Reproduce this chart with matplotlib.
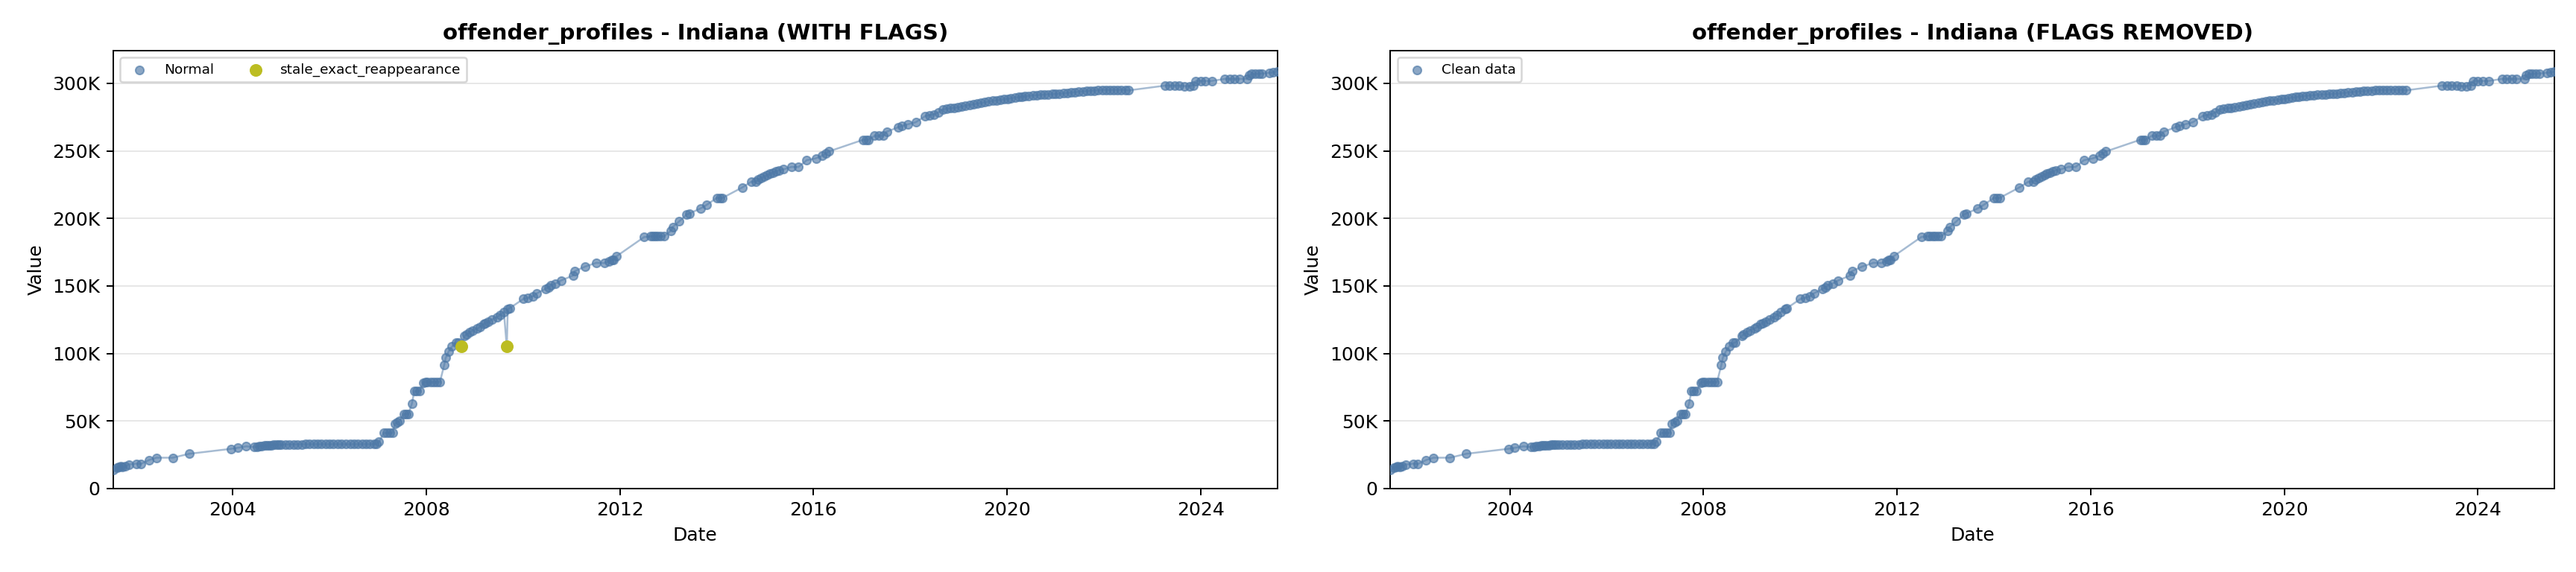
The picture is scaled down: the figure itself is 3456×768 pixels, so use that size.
import pandas as pd
import matplotlib.pyplot as plt
from matplotlib.ticker import FuncFormatter

# decimal years, values in records
years = [
    2001.53, 2001.60, 2001.64, 2001.68, 2001.72, 2001.77, 2001.85, 2002.00, 2002.10, 2002.27,
    2002.42, 2002.76, 2003.10, 2003.97, 2004.10, 2004.28, 2004.44,
    2004.50, 2004.55, 2004.60, 2004.65, 2004.70, 2004.75, 2004.80, 2004.85, 2004.90, 2004.95,
    2005.00, 2005.08, 2005.17, 2005.25, 2005.33, 2005.42, 2005.50, 2005.58, 2005.67, 2005.75,
    2005.83, 2005.92, 2006.00, 2006.08, 2006.17, 2006.25, 2006.33, 2006.42, 2006.50, 2006.58,
    2006.67, 2006.75, 2006.83, 2006.92, 2006.97, 2007.02,
    2007.12, 2007.18, 2007.24, 2007.30, 2007.35, 2007.40, 2007.45, 2007.53, 2007.58, 2007.63,
    2007.70, 2007.75, 2007.80, 2007.86, 2007.94, 2007.98, 2008.02, 2008.10, 2008.16, 2008.22,
    2008.28, 2008.37, 2008.40, 2008.46, 2008.53, 2008.61, 2008.66, 2008.72,
    2008.79, 2008.83, 2008.90, 2008.96, 2009.05, 2009.10, 2009.18, 2009.22, 2009.28, 2009.36,
    2009.46, 2009.52, 2009.60, 2009.66, 2009.68, 2009.72,
    2010.00, 2010.10, 2010.20, 2010.28, 2010.46, 2010.52, 2010.57, 2010.67, 2010.78, 2011.03,
    2011.07, 2011.28, 2011.51, 2011.68, 2011.78, 2011.83, 2011.86, 2011.93,
    2012.50, 2012.63, 2012.68, 2012.73, 2012.78, 2012.84, 2012.91, 2013.05, 2013.09, 2013.22,
    2013.38, 2013.43, 2013.66, 2013.79, 2014.00, 2014.06, 2014.12, 2014.53, 2014.71, 2014.81,
    2014.86, 2014.92, 2014.98, 2015.04, 2015.10, 2015.16, 2015.22, 2015.28, 2015.38, 2015.54,
    2015.69, 2015.86, 2016.05, 2016.18, 2016.25, 2016.31,
    2017.03, 2017.08, 2017.13, 2017.26, 2017.35, 2017.44, 2017.51, 2017.75, 2017.83, 2017.95,
    2018.11, 2018.31, 2018.40, 2018.49, 2018.58, 2018.67, 2018.75, 2018.83, 2018.90, 2018.98,
    2019.06, 2019.14, 2019.22, 2019.30, 2019.38, 2019.46, 2019.54, 2019.62, 2019.70, 2019.78,
    2019.86, 2019.94, 2020.01, 2020.08, 2020.16, 2020.24, 2020.30, 2020.37, 2020.45, 2020.53,
    2020.61, 2020.69, 2020.77, 2020.85, 2020.93, 2021.00, 2021.08, 2021.16, 2021.24, 2021.32,
    2021.40, 2021.48, 2021.56, 2021.64, 2021.72, 2021.80, 2021.88, 2021.96, 2022.04, 2022.12,
    2022.20, 2022.28, 2022.36, 2022.44, 2022.51,
    2023.26, 2023.36, 2023.46, 2023.56, 2023.66, 2023.77, 2023.85, 2023.90, 2024.00, 2024.10,
    2024.23, 2024.50, 2024.60, 2024.70, 2024.80, 2024.96, 2025.00, 2025.05, 2025.12, 2025.20,
    2025.27, 2025.42, 2025.50, 2025.58,
]
values_k = [
    13.5, 15.5, 16.0, 16.2, 16.0, 16.3, 17.8, 18.4, 18.2, 21.1,
    22.8, 22.8, 25.7, 29.4, 30.1, 31.2, 30.7,
    31.0, 31.3, 31.5, 31.7, 31.8, 32.0, 32.1, 32.2, 32.3, 32.4,
    32.5, 32.6, 32.6, 32.7, 32.7, 32.7, 32.8, 32.8, 32.8, 32.8,
    32.8, 32.8, 32.8, 32.8, 32.8, 32.8, 32.8, 32.8, 32.8, 32.8,
    32.8, 32.8, 32.8, 32.9, 33.2, 34.4,
    41.1, 41.1, 41.1, 41.1, 47.8, 49.0, 50.0, 55.1, 55.3, 55.1,
    62.8, 72.0, 72.0, 72.0, 78.4, 78.8, 78.8, 78.8, 78.8, 78.8,
    78.8, 91.6, 96.8, 101.3, 105.0, 107.8, 108.0, 105.0,
    112.9, 114.0, 116.0, 117.0, 118.4, 119.5, 121.9, 122.5, 123.5, 125.2,
    127.0, 128.5, 130.7, 105.0, 132.9, 133.5,
    140.3, 141.2, 142.3, 144.5, 147.8, 149.0, 150.4, 151.8, 154.0, 157.7,
    161.0, 164.3, 167.1, 166.9, 168.4, 169.0, 169.3, 172.0,
    186.2, 186.7, 186.7, 186.7, 186.7, 186.7, 186.7, 190.8, 193.7, 197.7,
    202.9, 203.6, 207.3, 210.0, 215.2, 215.2, 215.2, 223.0, 227.1, 227.1,
    229.0, 230.0, 231.0, 232.0, 233.0, 234.0, 234.8, 235.5, 236.3, 238.1,
    238.1, 243.1, 244.5, 246.4, 248.0, 249.5,
    258.3, 258.3, 258.3, 261.1, 261.1, 261.1, 264.2, 267.5, 268.5, 269.7,
    271.2, 275.8, 276.5, 277.0, 278.5, 280.7, 281.2, 281.6, 281.9, 282.2,
    282.8, 283.4, 284.0, 284.5, 285.0, 285.5, 286.0, 286.5, 287.0, 287.4,
    287.8, 288.3, 288.6, 289.0, 289.4, 289.8, 290.2, 290.5, 290.8, 291.0,
    291.2, 291.5, 291.7, 291.9, 292.0, 292.2, 292.3, 292.6, 292.9, 293.2,
    293.5, 293.8, 294.0, 294.3, 294.5, 294.7, 294.9, 295.0, 295.1, 295.1,
    295.2, 295.2, 295.2, 295.2, 294.8,
    298.3, 298.3, 298.3, 298.3, 298.0, 298.0, 298.5, 301.8, 301.8, 301.8,
    301.8, 303.3, 303.3, 303.3, 303.3, 303.3, 306.0, 307.0, 307.0, 307.2,
    307.3, 307.9, 308.0, 308.8,
]
flag_years = [2008.72, 2009.66]
flag_label = 'stale_exact_reappearance'
state = 'Indiana'
table = 'offender_profiles'

blue = '#4e79a7'
olive = '#bcbd22'


def to_date(y):
    return pd.Timestamp(int(y), 1, 1) + pd.Timedelta(days=(y - int(y)) * 365.25)


df = pd.DataFrame({'date': [to_date(y) for y in years],
                   'value': [v * 1000 for v in values_k],
                   'flag': [y in flag_years for y in years]})
clean = df[~df.flag]
flagged = df[df.flag]

fig, axes = plt.subplots(1, 2, figsize=(19.2, 768 / 180), dpi=180)
fig.subplots_adjust(left=0.044, right=0.9916, bottom=0.146, top=0.9115, wspace=0.0973)

kfmt = FuncFormatter(lambda x, p: '0' if x == 0 else f'{x / 1000:.0f}K')

# with flags
ax = axes[0]
ax.plot(df.date, df.value, color=blue, alpha=0.5, linewidth=1, zorder=2)
ax.scatter(clean.date, clean.value, s=20, color=blue, alpha=0.65, linewidths=0.8,
           label='Normal', zorder=3)
ax.scatter(flagged.date, flagged.value, s=36, color=olive, linewidths=0.8,
           label=flag_label, zorder=4)
ax.set_title(f'{table} - {state} (WITH FLAGS)', fontsize=11.7, fontweight='bold')
ax.legend(loc='upper left', ncol=2, fontsize=7.4)

# flags removed
ax = axes[1]
ax.plot(clean.date, clean.value, color=blue, alpha=0.5, linewidth=1, zorder=2)
ax.scatter(clean.date, clean.value, s=20, color=blue, alpha=0.65, linewidths=0.8,
           label='Clean data', zorder=3)
ax.set_title(f'{table} - {state} (FLAGS REMOVED)', fontsize=11.7, fontweight='bold')
ax.legend(loc='upper left', fontsize=7.4)

ymax = df.value.max() * 1.05
for ax in axes:
    ax.set_xlim(df.date.min(), df.date.max())
    ax.set_ylim(0, ymax)
    ax.yaxis.set_major_formatter(kfmt)
    ax.grid(True, axis='y', alpha=0.3)
    ax.set_axisbelow(True)
    ax.set_xlabel('Date')
    ax.set_ylabel('Value')

plt.savefig('out.png', dpi=180)
